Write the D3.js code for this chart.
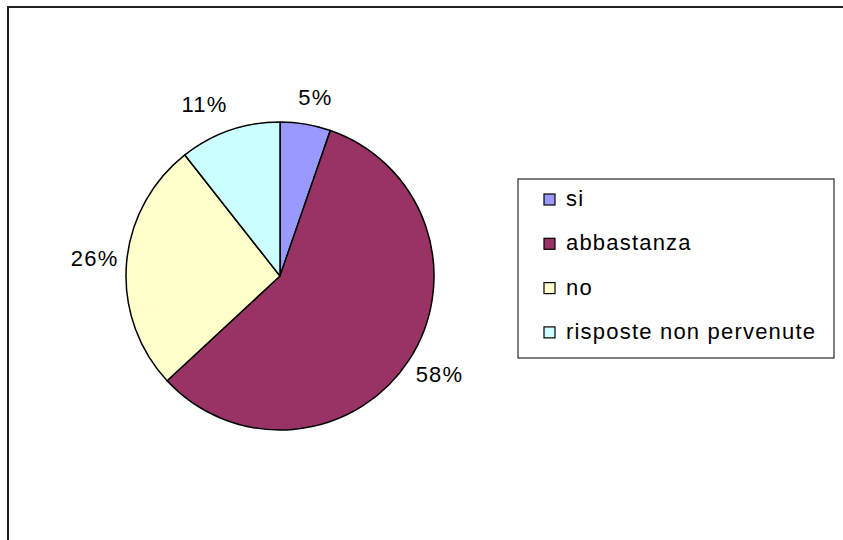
<!DOCTYPE html>
<html>
<head>
<meta charset="utf-8">
<script src="https://cdn.jsdelivr.net/npm/d3@7"></script>
<style>
  body { margin: 0; background: #fff; }
  svg text { font-family: "Liberation Sans", Arial, sans-serif; font-size: 22px; letter-spacing: 1.2px; fill: #000; }
</style>
</head>
<body>
<svg id="chart" width="843" height="540"></svg>
<script>
// slices, clockwise from 12 o'clock
var categories = ["si", "abbastanza", "no", "risposte non pervenute"];
var values = [5.3, 57.8, 26.3, 10.6];
var colors = ["#9999FF", "#993366", "#FFFFCC", "#CCFFFF"];

var svg = d3.select("#chart");

// outer frame (runs off the right and bottom edges)
svg.append("rect")
    .attr("x", 8).attr("y", 7)
    .attr("width", 900).attr("height", 600)
    .attr("fill", "none")
    .attr("stroke", "#222")
    .attr("stroke-width", 2);

var cx = 280, cy = 276, r = 154;

var pie = d3.pie().sort(null).value(function (d) { return d; });
var arcs = pie(values);
var total = d3.sum(values);

var arc = d3.arc().innerRadius(0).outerRadius(r);
var labelRx = 162, labelRy = 170;

var g = svg.append("g").attr("transform", "translate(" + cx + "," + cy + ")");

g.selectAll("path.slice")
    .data(arcs)
  .enter().append("path")
    .attr("class", "slice")
    .attr("d", arc)
    .attr("fill", function (d, i) { return colors[i]; })
    .attr("stroke", "#000")
    .attr("stroke-width", 1.5)
    .attr("stroke-linejoin", "round");

// labels sit outside the rim, pushed away from it by their own box
var clamp = function (v) { return Math.max(-1, Math.min(1, v)); };
g.selectAll("text.lbl")
    .data(arcs)
  .enter().append("text")
    .attr("class", "lbl")
    .attr("text-anchor", "middle")
    .attr("dy", "0.36em")
    .text(function (d) { return Math.round(d.value / total * 100) + "%"; })
    .attr("transform", function (d) {
        var a = (d.startAngle + d.endAngle) / 2;
        var w = this.getComputedTextLength(), h = 16;
        var x = labelRx * Math.sin(a) + (w / 2) * clamp(Math.sin(a) * 3);
        var y = -labelRy * Math.cos(a) - (h / 2) * clamp(Math.cos(a) * 3) - 3;
        return "translate(" + x + "," + y + ")";
    });

// legend
var legend = svg.append("g").attr("transform", "translate(518,179)");
legend.append("rect")
    .attr("width", 316).attr("height", 179)
    .attr("fill", "#fff")
    .attr("stroke", "#000")
    .attr("stroke-width", 1);

var items = legend.selectAll("g.item")
    .data(categories)
  .enter().append("g")
    .attr("class", "item")
    .attr("transform", function (d, i) { return "translate(0," + (27 + i * 44.3) + ")"; });

items.append("rect")
    .attr("x", 26).attr("y", -12)
    .attr("width", 11).attr("height", 11)
    .attr("fill", function (d, i) { return colors[i]; })
    .attr("stroke", "#000")
    .attr("stroke-width", 1.2);

items.append("text")
    .attr("x", 48)
    .text(function (d) { return d; });
</script>
</body>
</html>
